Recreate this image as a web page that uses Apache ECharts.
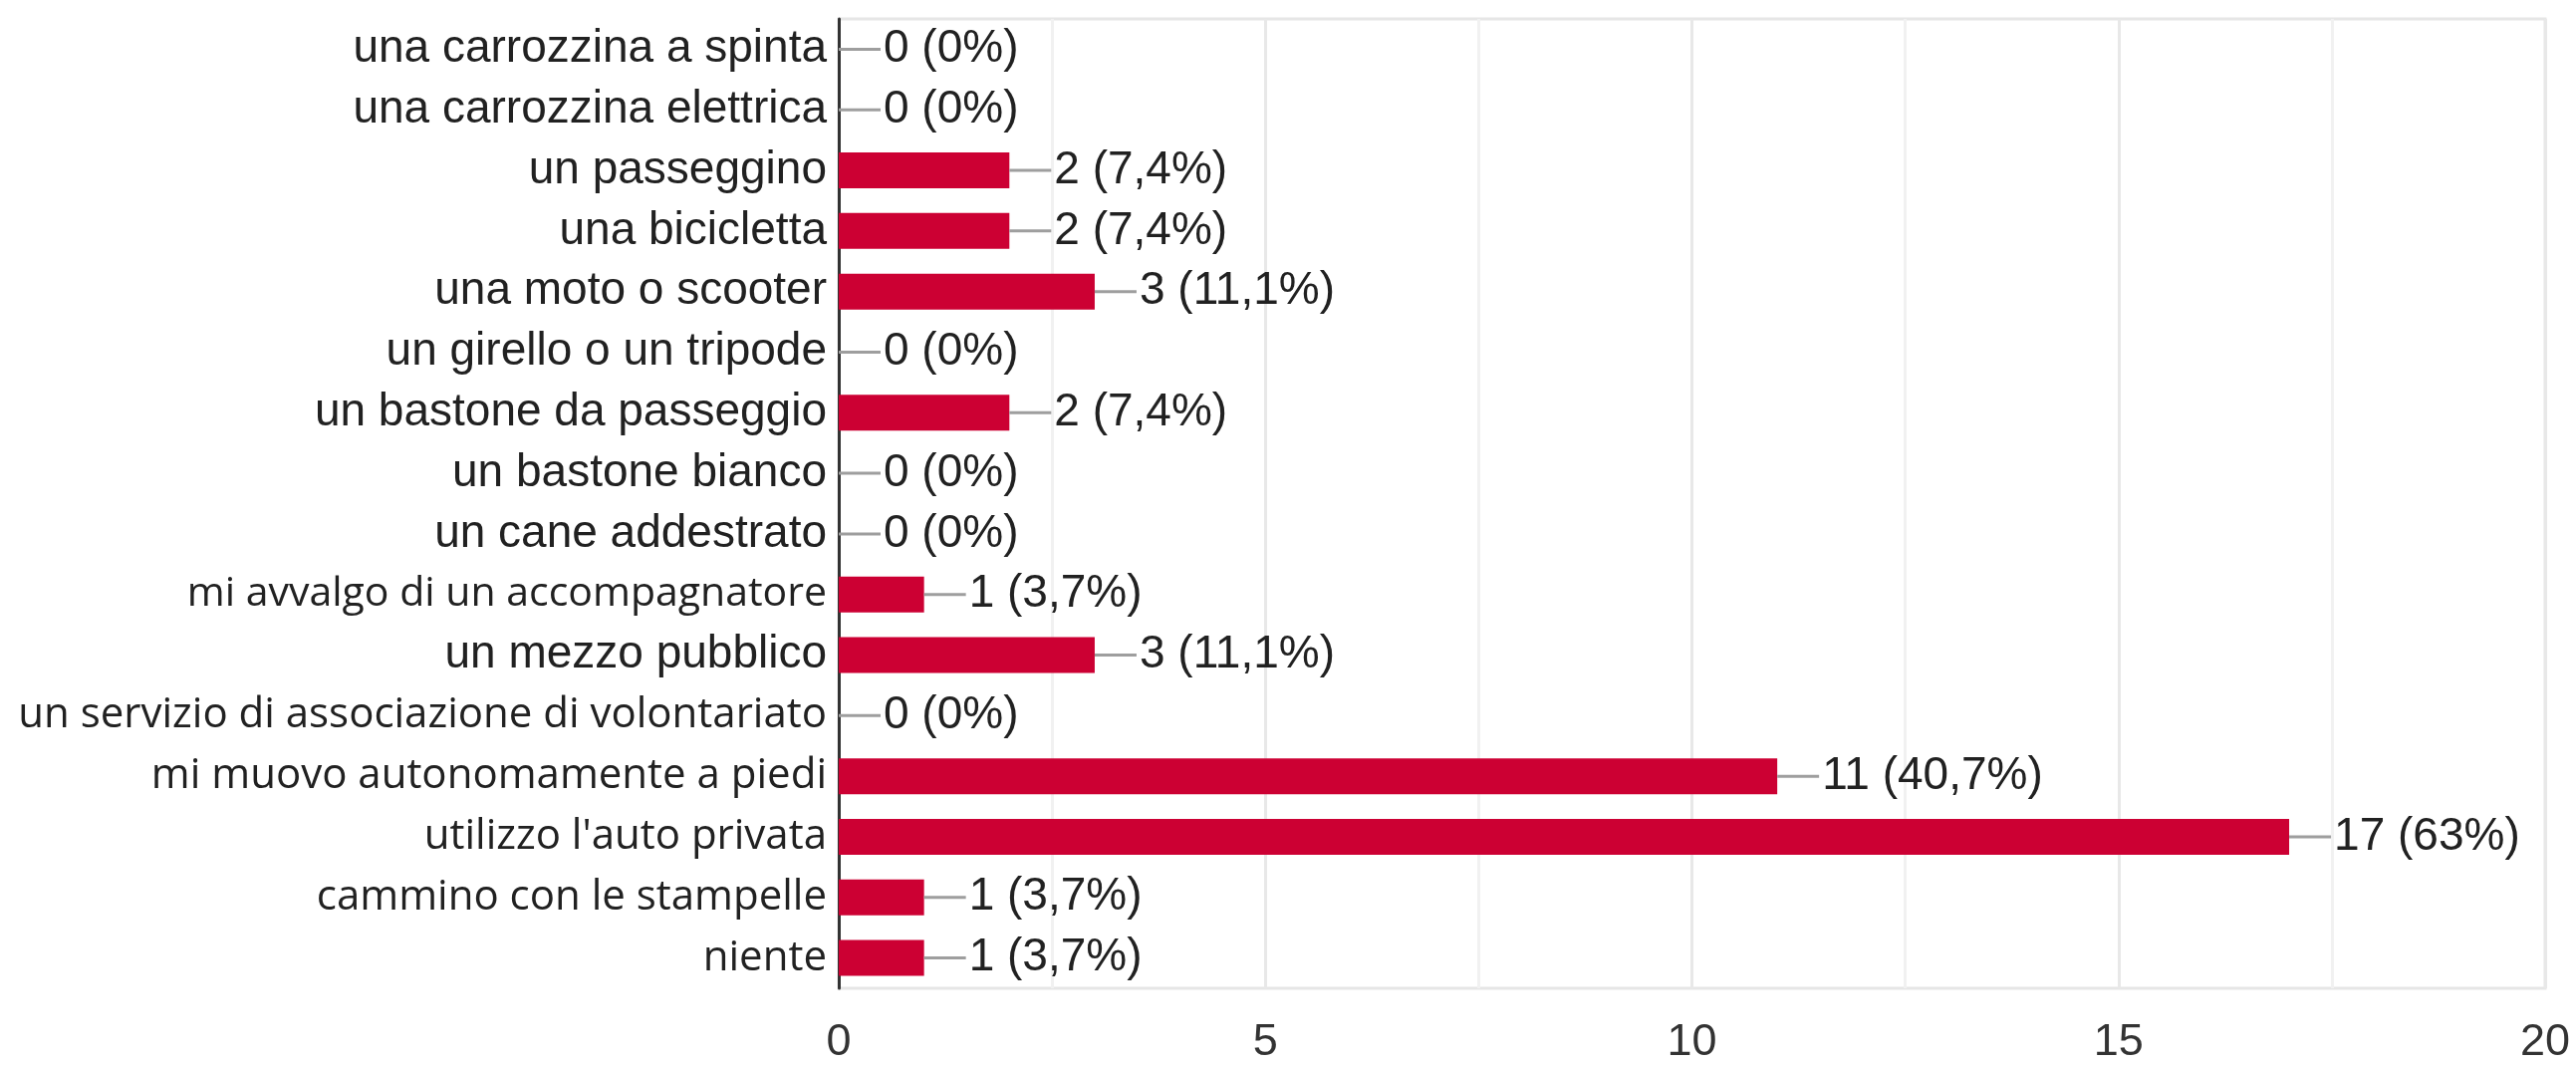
<!DOCTYPE html>
<html>
<head>
<meta charset="utf-8">
<script src="https://cdn.jsdelivr.net/npm/echarts@6/dist/echarts.min.js"></script>
<style>
html,body{margin:0;padding:0;background:#fff;}
#chart{width:2586px;height:1069px;}
</style>
</head>
<body>
<div id="chart"></div>
<script>
const categories = [
  "una carrozzina a spinta",
  "una carrozzina elettrica",
  "un passeggino",
  "una bicicletta",
  "una moto o scooter",
  "un girello o un tripode",
  "un bastone da passeggio",
  "un bastone bianco",
  "un cane addestrato",
  "mi avvalgo di un accompagnatore",
  "un mezzo pubblico",
  "un servizio di associazione di volontariato",
  "mi muovo autonomamente a piedi",
  "utilizzo l'auto privata",
  "cammino con le stampelle",
  "niente"
];
const counts = [0, 0, 2, 2, 3, 0, 2, 0, 0, 1, 3, 0, 11, 17, 1, 1];
const percents = ["0%", "0%", "7,4%", "7,4%", "11,1%", "0%", "7,4%", "0%", "0%", "3,7%", "11,1%", "0%", "40,7%", "63%", "3,7%", "3,7%"];
// labels typed in a different (humanist) font in the reference
const altFontLabels = [
  "mi avvalgo di un accompagnatore",
  "un servizio di associazione di volontariato",
  "mi muovo autonomamente a piedi",
  "utilizzo l'auto privata",
  "cammino con le stampelle",
  "niente"
];

const chart = echarts.init(document.getElementById('chart'), null, {renderer: 'canvas'});
const textColor = '#212121';

chart.setOption({
  animation: false,
  backgroundColor: '#ffffff',
  grid: {
    left: 842, right: 31, top: 19, bottom: 74,
    show: true, borderColor: '#e6e6e6', borderWidth: 3
  },
  xAxis: {
    type: 'value', min: 0, max: 20, interval: 5,
    axisLine: {show: false},
    axisTick: {show: false},
    axisLabel: {color: '#333333', fontSize: 45, fontFamily: 'Arial, "Liberation Sans"', margin: 32},
    splitLine: {show: true, lineStyle: {color: '#e8e8e8', width: 3}},
    minorTick: {show: false, splitNumber: 2},
    minorSplitLine: {show: true, lineStyle: {color: '#f1f1f1', width: 3}}
  },
  yAxis: {
    type: 'category', data: categories, inverse: true,
    axisLine: {show: true, lineStyle: {color: '#333333', width: 3}},
    axisTick: {show: false},
    axisLabel: {
      color: textColor, fontSize: 46, fontFamily: 'Arial, "Liberation Sans"', margin: 12,
      formatter: function (v) {
        if (v === "mi avvalgo di un accompagnatore") return '{a|' + v + '}';
        if (altFontLabels.indexOf(v) >= 0) return '{h|' + v + '}';
        return v;
      },
      rich: {
        h: {fontFamily: '"Open Sans"', fontSize: 42, color: textColor},
        a: {fontFamily: '"Open Sans"', fontSize: 41, color: textColor}
      }
    }
  },
  series: [
    {
      type: 'bar',
      data: counts,
      barWidth: 36,
      itemStyle: {color: '#cc0033'},
      label: {
        show: true, position: 'right', distance: 45,
        color: textColor, fontSize: 46, fontFamily: 'Arial, "Liberation Sans"',
        formatter: function (p) { return counts[p.dataIndex] + ' (' + percents[p.dataIndex] + ')'; }
      },
      z: 2
    },
    {
      type: 'custom',
      data: counts.map(function (v, i) { return [v, i]; }),
      encode: {x: 0, y: 1},
      renderItem: function (params, api) {
        const p = api.coord([api.value(0), api.value(1)]);
        return {
          type: 'line',
          shape: {x1: p[0], y1: p[1], x2: p[0] + 42, y2: p[1]},
          style: {stroke: '#9e9e9e', lineWidth: 3}
        };
      },
      silent: true,
      z: 3
    }
  ]
});
</script>
</body>
</html>
